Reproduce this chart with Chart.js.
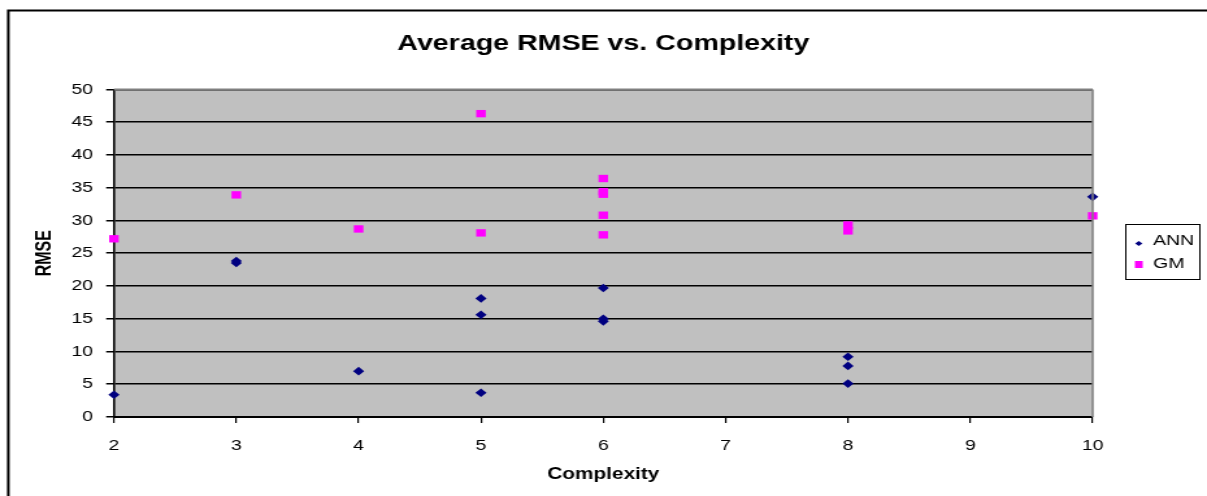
<!DOCTYPE html>
<html lang="en">
<head>
  <meta charset="UTF-8">
  <title>Average RMSE vs. Complexity</title>
  <script src="https://cdn.jsdelivr.net/npm/chart.js"></script>
  <style>
    html, body { margin: 0; padding: 0; background: #fff; overflow: hidden; }
    /* the original export is stretched sideways, so the canvas is too */
    canvas { display: block; transform: scaleX(1.29925); transform-origin: 0 0; }
  </style>
</head>
<body>
  <canvas id="rmseChart" width="929" height="496"></canvas>

  <script>
    // values
    const annComplexity = [2, 3, 3, 4, 5, 5, 5, 6, 6, 6, 8, 8, 8, 10];
    const annRmse = [3.4, 23.5, 23.8, 7.0, 18.1, 15.6, 3.7, 19.7, 14.6, 15.0, 9.2, 7.8, 5.1, 33.6];
    const gmComplexity = [2, 3, 4, 5, 5, 6, 6, 6, 6, 6, 8, 8, 10];
    const gmRmse = [27.2, 33.9, 28.7, 46.3, 28.1, 36.4, 34.0, 34.4, 30.8, 27.8, 28.4, 29.3, 30.7];
    const xTicks = [2, 3, 4, 5, 6, 7, 8, 9, 10];
    const yTicks = [0, 5, 10, 15, 20, 25, 30, 35, 40, 45, 50];

    const font = "Arial, 'Liberation Sans', sans-serif";
    const toPoints = (xs, ys) => xs.map((x, i) => ({ x: x, y: ys[i] }));

    // grey plot area, outer frame and boxed legend, excel style
    const excelLook = {
      id: 'excelLook',
      beforeDraw(chart) {
        const { ctx, chartArea: a } = chart;
        ctx.save();
        ctx.fillStyle = '#c0c0c0';
        ctx.fillRect(a.left, a.top, a.right - a.left, a.bottom - a.top);
        ctx.strokeStyle = '#000';
        ctx.beginPath();
        ctx.moveTo(6.4, 600);
        ctx.lineTo(6.4, 10.5);
        ctx.lineTo(1000, 10.5);
        ctx.lineWidth = 2;
        ctx.stroke();
        ctx.restore();
      },
      afterDraw(chart) {
        const { ctx, chartArea: a } = chart;
        ctx.save();
        ctx.strokeStyle = '#808080';
        ctx.lineWidth = 2;
        ctx.beginPath();
        ctx.moveTo(a.left, a.top);
        ctx.lineTo(a.right, a.top);
        ctx.stroke();
        ctx.lineWidth = 1.6;
        ctx.beginPath();
        ctx.moveTo(a.right, a.top);
        ctx.lineTo(a.right, a.bottom);
        ctx.stroke();

        // legend
        const lx = 866.5, ly = 224.5, lw = 57, lh = 55;
        ctx.fillStyle = '#fff';
        ctx.fillRect(lx, ly, lw, lh);
        ctx.strokeStyle = '#000';
        ctx.lineWidth = 1;
        ctx.strokeRect(lx, ly, lw, lh);
        ctx.font = '15px ' + font;
        ctx.textBaseline = 'middle';
        chart.data.datasets.forEach((ds, i) => {
          const cy = ly + 19 + i * 21;
          const cx = lx + 10;
          ctx.fillStyle = ds.pointBackgroundColor;
          ctx.beginPath();
          if (ds.pointStyle === 'rectRot') {
            ctx.moveTo(cx, cy - 2.6);
            ctx.lineTo(cx + 2.8, cy);
            ctx.lineTo(cx, cy + 2.6);
            ctx.lineTo(cx - 2.8, cy);
            ctx.closePath();
            ctx.fill();
          } else {
            ctx.fillRect(cx - 3, cy - 3.5, 6, 7);
          }
          ctx.fillStyle = '#000';
          ctx.fillText(ds.label, lx + 21, cy - 3 + i * 2);
        });
        ctx.restore();
      }
    };

    new Chart(document.getElementById('rmseChart'), {
      type: 'scatter',
      data: {
        datasets: [
          {
            label: 'ANN',
            data: toPoints(annComplexity, annRmse),
            pointStyle: 'rectRot',
            pointRadius: 4.3,
            pointBackgroundColor: '#000080',
            pointBorderColor: '#000080',
            pointBorderWidth: 0,
            clip: false
          },
          {
            label: 'GM',
            data: toPoints(gmComplexity, gmRmse),
            pointStyle: 'rect',
            pointRadius: 5.2,
            pointBackgroundColor: '#ff00ff',
            pointBorderColor: '#ff00ff',
            pointBorderWidth: 0,
            clip: false
          }
        ]
      },
      options: {
        responsive: false,
        animation: false,
        devicePixelRatio: 1,
        layout: { padding: { left: 0, right: 88, top: 0, bottom: 0 } },
        plugins: {
          legend: { display: false },
          tooltip: { enabled: false },
          title: {
            display: true,
            fullSize: false,
            text: 'Average RMSE vs. Complexity',
            color: '#000',
            font: { family: font, size: 22, weight: 'bold' },
            padding: { top: 31, bottom: 32 }
          }
        },
        scales: {
          x: {
            type: 'linear',
            min: 2,
            max: 10,
            afterBuildTicks: s => { s.ticks = xTicks.map(v => ({ value: v })); },
            afterFit: s => { s.height = 79; },
            ticks: { color: '#000', font: { family: font, size: 15 }, padding: 14, maxRotation: 0, autoSkip: false },
            grid: { drawOnChartArea: false, drawTicks: true, tickLength: 6, color: '#000', lineWidth: 1.2 },
            border: { color: '#000', width: 2 },
            title: {
              display: true,
              text: 'Complexity',
              color: '#000',
              font: { family: font, size: 16, weight: 'bold' },
              padding: { top: 0, bottom: 12 }
            }
          },
          y: {
            min: 0,
            max: 50,
            afterBuildTicks: s => { s.ticks = yTicks.map(v => ({ value: v })); },
            afterFit: s => { s.width = 87.7; },
            ticks: { color: '#000', font: { family: font, size: 15 }, padding: 10, autoSkip: false },
            grid: { color: '#000', lineWidth: 1.5, tickLength: 6 },
            border: { color: '#000', width: 1.6 },
            title: {
              display: true,
              text: 'RMSE',
              color: '#000',
              font: { family: font, size: 16, weight: 'bold' },
              padding: { top: 25, bottom: 0 }
            }
          }
        }
      },
      plugins: [excelLook]
    });
  </script>
</body>
</html>
